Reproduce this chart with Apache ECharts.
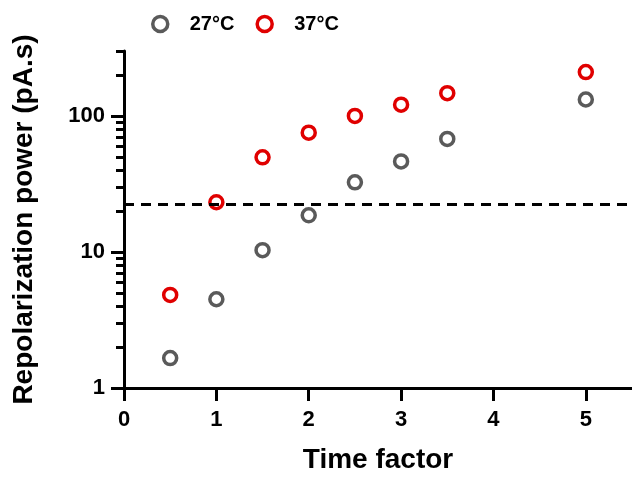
<!DOCTYPE html>
<html>
<head>
<meta charset="utf-8">
<script src="https://cdn.jsdelivr.net/npm/echarts@6/dist/echarts.min.js"></script>
<style>html,body{margin:0;padding:0;background:#fff}#c{width:632px;height:479px}</style>
</head>
<body>
<div id="c"></div>
<script>
const seriesNames = ['27°C', '37°C'];
const timeFactor = [0.5, 1, 1.5, 2, 2.5, 3, 3.5, 5];
const power27 = [1.66, 4.49, 10.3, 18.6, 32.5, 46.3, 67.7, 132];
const power37 = [4.83, 23.2, 49.6, 75.3, 100, 121, 147, 210];
const thresholdValue = 22.6;
const xTicks = [0, 1, 2, 3, 4, 5];
const yMajorTicks = [1, 10, 100];
const yMinorTicks = [2, 3, 4, 5, 6, 7, 8, 9, 20, 30, 40, 50, 60, 70, 80, 90, 200, 300];

const FONT = '"Liberation Sans", Arial, sans-serif';
const grey = '#5a5a5a';
const red = '#e00000';

const chart = echarts.init(document.getElementById('c'), null, {renderer: 'canvas'});
function pairs(xs, ys) { return xs.map((x, i) => [x, ys[i]]); }

chart.setOption({
  animation: false,
  backgroundColor: '#fff',
  grid: {left: 124, right: 0, top: 51, bottom: 90, containLabel: false},
  legend: {
    data: seriesNames,
    left: 146, top: 9,
    itemWidth: 15, itemHeight: 15, itemGap: 21,
    itemStyle: {borderWidth: 3.5, opacity: 1},
    textStyle: {fontFamily: FONT, fontWeight: 'bold', fontSize: 20, color: '#000', padding: [0, 0, 0, 17]}
  },
  xAxis: {
    type: 'value', min: 0, max: 5.5,
    name: 'Time factor', nameLocation: 'middle', nameGap: 58,
    nameTextStyle: {fontFamily: FONT, fontWeight: 'bold', fontSize: 28, color: '#000'},
    axisLine: {show: true, lineStyle: {color: '#000', width: 3}},
    axisTick: {show: true, length: 13, lineStyle: {color: '#000', width: 3}, customValues: xTicks},
    axisLabel: {fontFamily: FONT, fontWeight: 'bold', fontSize: 22, color: '#000', margin: 21, customValues: xTicks},
    splitLine: {show: false}
  },
  yAxis: [{
    type: 'log', logBase: 10, min: 1, max: 300,
    name: 'Repolarization power (pA.s)', nameLocation: 'middle', nameGap: 86,
    nameTextStyle: {fontFamily: FONT, fontWeight: 'bold', fontSize: 28, color: '#000'},
    axisLine: {show: true, lineStyle: {color: '#000', width: 3}},
    axisTick: {show: true, length: 13, lineStyle: {color: '#000', width: 3}, customValues: yMajorTicks},
    axisLabel: {fontFamily: FONT, fontWeight: 'bold', fontSize: 22, color: '#000', margin: 19, customValues: yMajorTicks},
    splitLine: {show: false}
  }, {
    type: 'log', logBase: 10, min: 1, max: 300, position: 'left',
    axisLine: {show: false},
    axisTick: {show: true, length: 8, lineStyle: {color: '#000', width: 3}, customValues: yMinorTicks},
    axisLabel: {show: false},
    splitLine: {show: false}
  }],
  series: [{
    name: seriesNames[0], type: 'scatter', symbol: 'circle', symbolSize: 13,
    itemStyle: {color: '#fff', borderColor: grey, borderWidth: 3.5, opacity: 1},
    data: pairs(timeFactor, power27),
    markLine: {
      silent: true, symbol: 'none', label: {show: false},
      lineStyle: {color: '#000', width: 3, type: [10, 7]},
      data: [[{coord: [0, thresholdValue]}, {coord: [5.5, thresholdValue]}]]
    },
    z: 3
  }, {
    name: seriesNames[1], type: 'scatter', symbol: 'circle', symbolSize: 13,
    itemStyle: {color: '#fff', borderColor: red, borderWidth: 3.5, opacity: 1},
    data: pairs(timeFactor, power37),
    z: 4
  }]
});
</script>
</body>
</html>
